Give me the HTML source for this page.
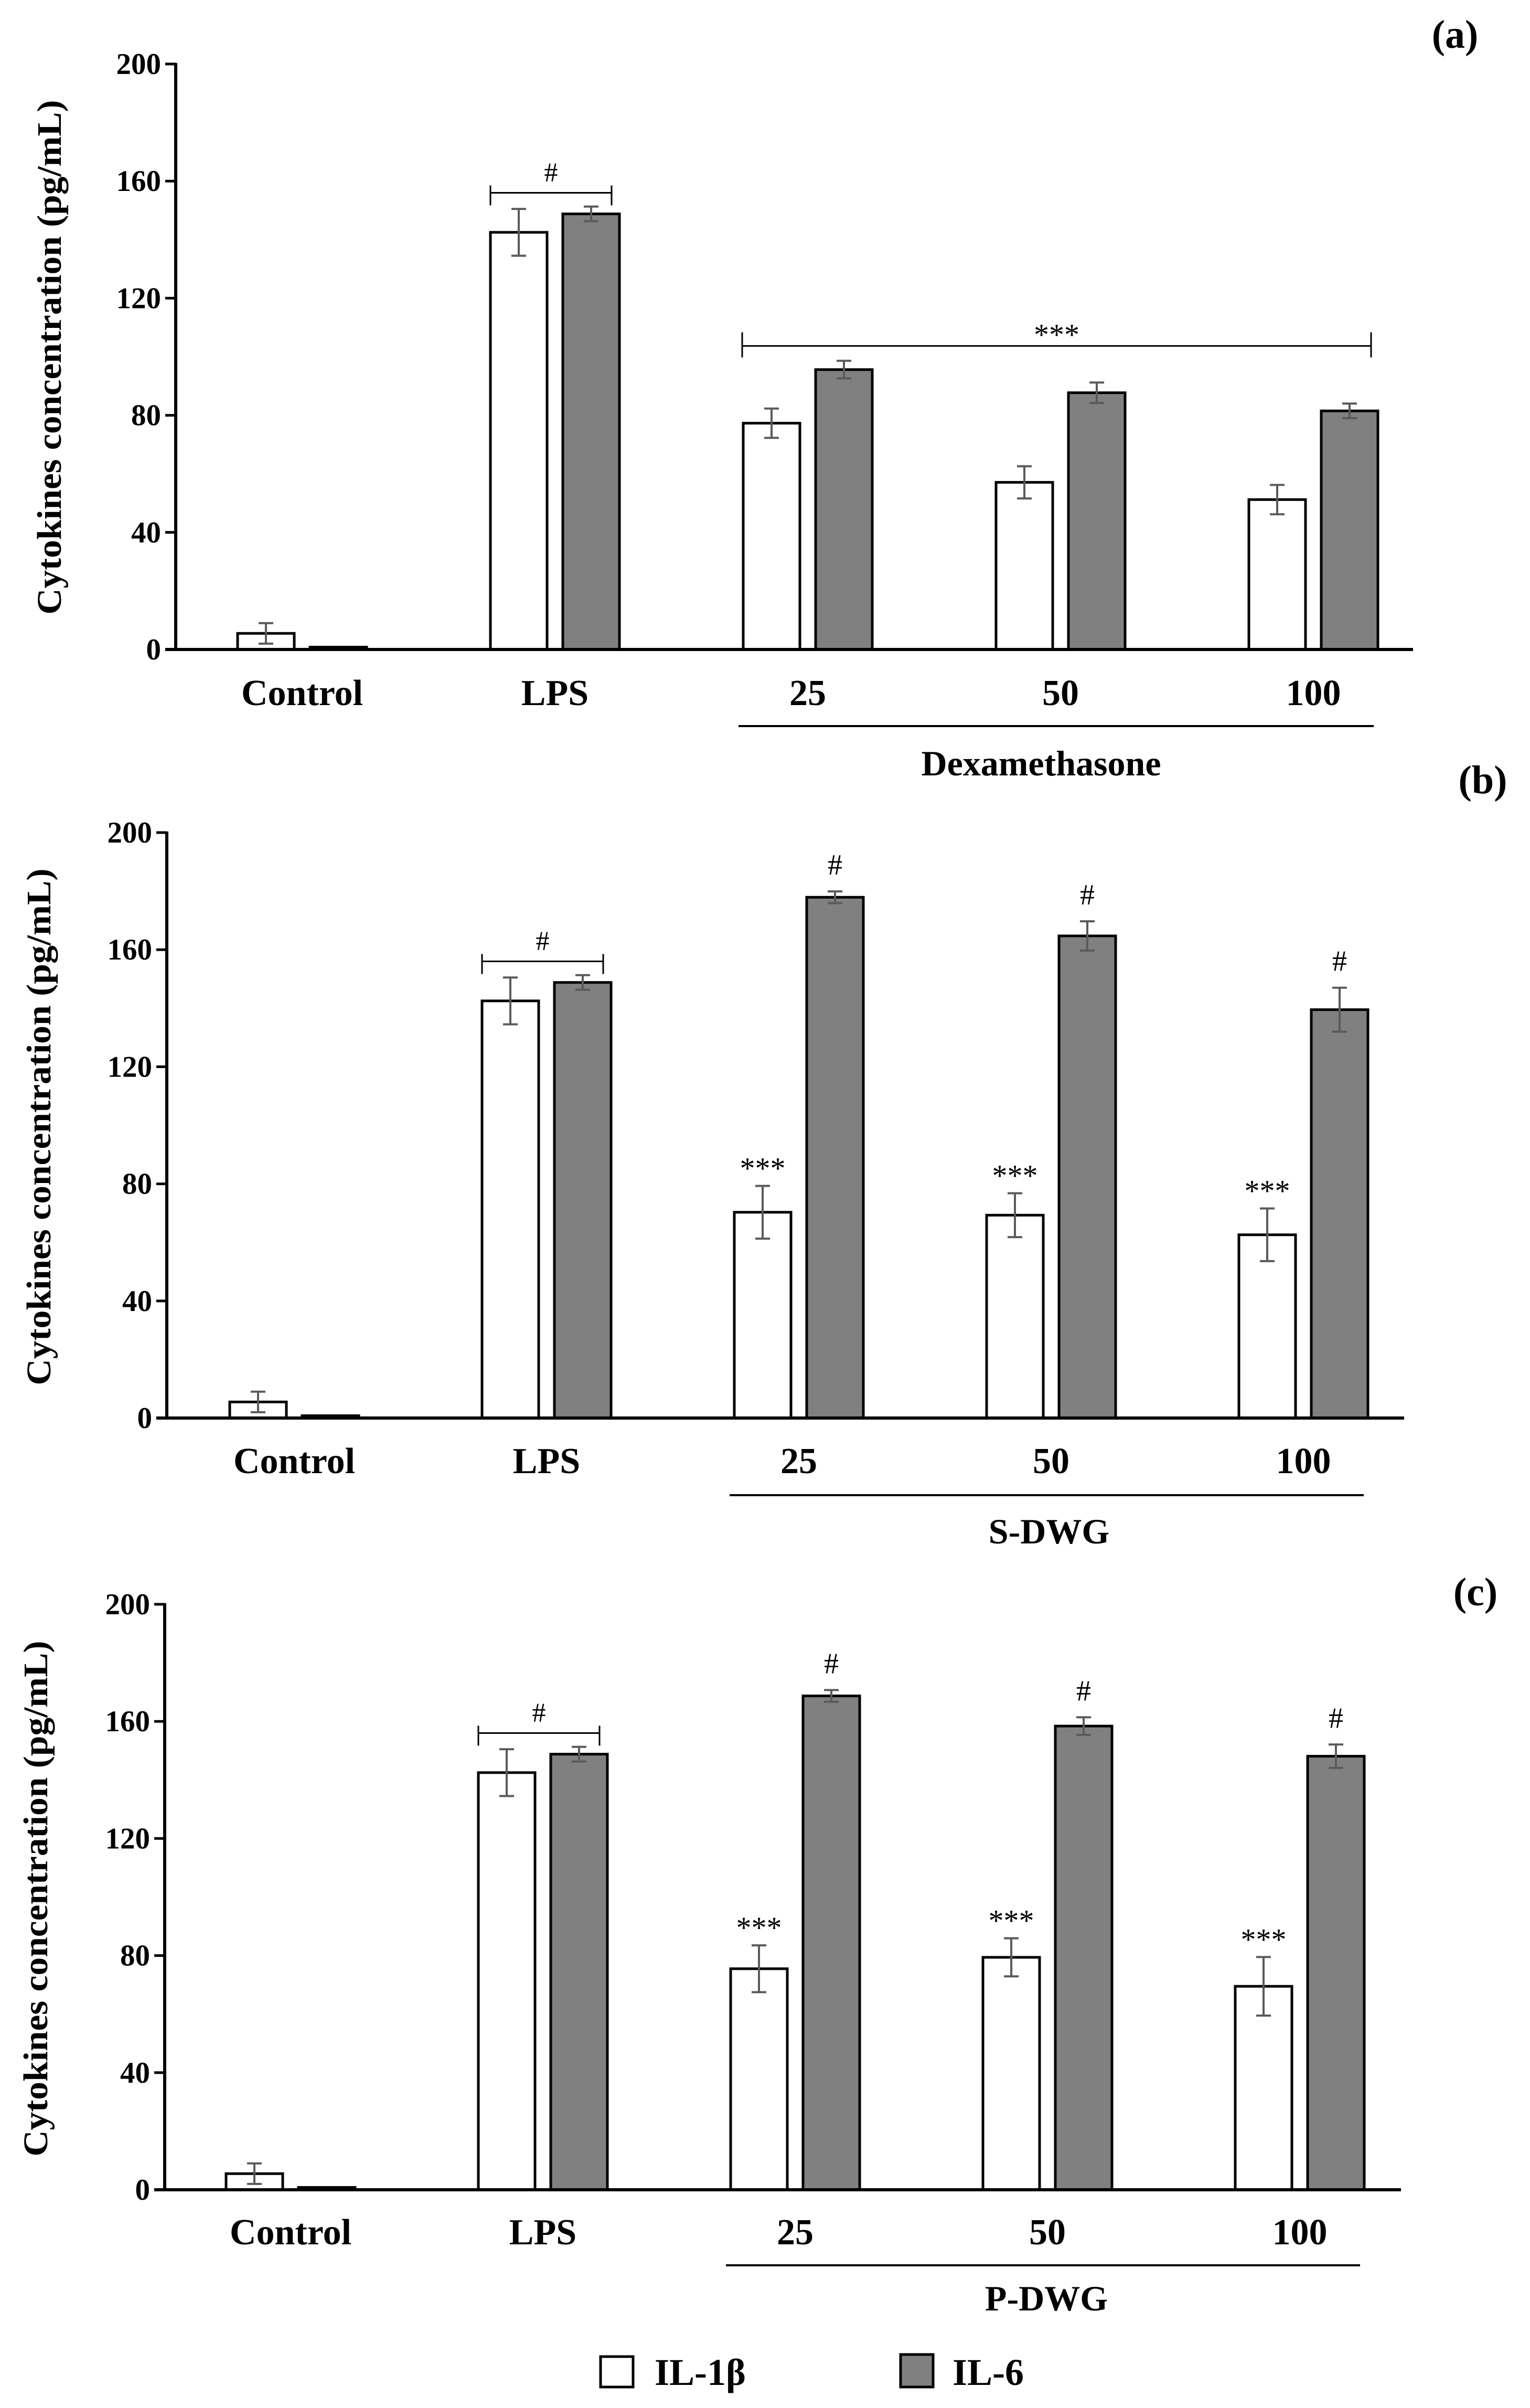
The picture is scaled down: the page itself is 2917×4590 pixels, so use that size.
<!DOCTYPE html>
<html><head><meta charset="utf-8"><style>
html,body{margin:0;padding:0;background:#fff;}
svg{display:block;}
</style></head><body>
<svg id="fig" width="2917" height="4590" viewBox="0 0 2917 4590" xmlns="http://www.w3.org/2000/svg" font-family="'Liberation Serif', serif"></svg>
<script>
// ---- data ----
const categories = ["Control", "LPS", "25", "50", "100"];
const yTicks = [0, 40, 80, 120, 160, 200];
const groupTitles = ["Dexamethasone", "S-DWG", "P-DWG"];
const panelLabels = ["(a)", "(b)", "(c)"];
const seriesNames = ["IL-1β", "IL-6"];
// panel (a)
const aIL1 = [5.5, 142.5, 77.3, 57.1, 51.2];
const aIL1err = [3.5, 8, 5, 5.5, 5];
const aIL6 = [0.8, 148.8, 95.6, 87.7, 81.5];
const aIL6err = [0.3, 2.5, 3, 3.5, 2.5];
// panel (b)
const bIL1 = [5.5, 142.5, 70.3, 69.3, 62.6];
const bIL1err = [3.5, 8, 9, 7.5, 9];
const bIL6 = [0.8, 148.8, 177.9, 164.7, 139.5];
const bIL6err = [0.3, 2.5, 2, 5, 7.5];
// panel (c)
const cIL1 = [5.5, 142.5, 75.5, 79.4, 69.5];
const cIL1err = [3.5, 8, 8, 6.5, 10];
const cIL6 = [0.8, 148.8, 168.7, 158.4, 148.1];
const cIL6err = [0.3, 2.5, 2, 3, 4];
const bracketLevel = [156, 103.7];

const NS = "http://www.w3.org/2000/svg";
const svg = document.getElementById("fig");
function mk(tag, attrs, parent, txt){
  const e = document.createElementNS(NS, tag);
  for (const k in attrs) e.setAttribute(k, attrs[k]);
  if (txt !== undefined) e.textContent = txt;
  (parent||svg).appendChild(e);
  return e;
}

const panels = [
  {ax:335, y0:1238, yTop:122, c0:576, step:482, axEnd:2694, tickR:307, titleX:93, titleY:681, titleLen:981,
   catY:1344, ulY:1384, grpY:1478, grpX:1985, lblX:2774, lblY:91, il1:aIL1, il1e:aIL1err, il6:aIL6, il6e:aIL6err, mode:"a"},
  {ax:318, y0:2703, yTop:1587, c0:561, step:481, axEnd:2677, tickR:290, titleX:73, titleY:2148, titleLen:985,
   catY:2808, ulY:2850, grpY:2942, grpX:2000, lblX:2827, lblY:1512, il1:bIL1, il1e:bIL1err, il6:bIL6, il6e:bIL6err, mode:"b"},
  {ax:314, y0:4174, yTop:3058, c0:554, step:481, axEnd:2671, tickR:286, titleX:67, titleY:3619, titleLen:983,
   catY:4278, ulY:4318, grpY:4404, grpX:1995, lblX:2813, lblY:3060, il1:cIL1, il1e:cIL1err, il6:cIL6, il6e:cIL6err, mode:"b"}
];
const BW = 108, OFF = 69;

panels.forEach((p, pi) => {
  const g = mk("g", {});
  
  
  const y = v => p.y0 - (v/200)*(p.y0 - p.yTop);
  const xc = i => p.c0 + i*p.step;

  yTicks.forEach(t => {
    const tk = mk("line", {x1:p.ax-20, x2:p.ax, y1:y(t), y2:y(t), stroke:"#000", "stroke-width":5}, g);
    
    
    const tl = mk("text", {x:p.tickR, y:y(t)+19, "text-anchor":"end", "font-size":57, "font-weight":"bold"}, g, String(t));
    
    
  });
  const yt = mk("text", {x:0, y:0, transform:`translate(${p.titleX+23},${p.titleY}) rotate(-90)`, "text-anchor":"middle",
    "font-size":66, "font-weight":"bold", textLength:p.titleLen, lengthAdjust:"spacingAndGlyphs"}, g, "Cytokines concentration (pg/mL)");
  
  

  categories.forEach((c, i) => {
    const pairs = [[p.il1[i], p.il1e[i], "#ffffff", -OFF, "il1b"], [p.il6[i], p.il6e[i], "#808080", OFF, "il6"]];
    pairs.forEach(([v, e, fill, off, nm]) => {
      const cx = xc(i) + off;
      const b = mk("rect", {x:cx-BW/2, y:y(v), width:BW, height:y(0)-y(v), fill:fill, stroke:"#000", "stroke-width":5}, g);
      
      
      if (v > 2) {
        const eb = mk("path", {d:`M${cx} ${y(v+e)}V${y(v-e)}M${cx-14} ${y(v+e)}H${cx+14}M${cx-14} ${y(v-e)}H${cx+14}`,
          stroke:"#5a5a5a", "stroke-width":4, fill:"none"}, g);
        
        
      }
      if (p.mode === "b" && i >= 2) {
        const txt = nm === "il1b" ? "***" : "#";
        const an = mk("text", {x:cx, y:y(v+e) - (nm === "il1b" ? 14 : 32), "text-anchor":"middle", "font-size":nm==="il1b"?58:56}, g, txt);
        
        
      }
    });
    const cl = mk("text", {x:xc(i), y:p.catY, "text-anchor":"middle", "font-size":70, "font-weight":"bold"}, g, c);
    
    
  });

  const xa = mk("line", {x1:p.ax-20, x2:p.axEnd, y1:y(0), y2:y(0), stroke:"#000", "stroke-width":6}, g);
  
  
  const ya = mk("line", {x1:p.ax, x2:p.ax, y1:y(200)-2, y2:y(0), stroke:"#000", "stroke-width":6}, g);
  
  

  const by = y(bracketLevel[0]);
  const l1 = xc(1)-123, r1 = xc(1)+108;
  const br = mk("path", {d:`M${l1} ${by}H${r1}M${l1} ${by-14}V${by+24}M${r1} ${by-14}V${by+24}`, stroke:"#000", "stroke-width":3, fill:"none"}, g);
  
  
  const bh = mk("text", {x:(l1+r1)/2, y:by-22, "text-anchor":"middle", "font-size":52}, g, "#");
  
  

  if (p.mode === "a") {
    const sy = y(bracketLevel[1]);
    const l2 = xc(2)-125, r2 = xc(4)+110;
    const sb = mk("path", {d:`M${l2} ${sy}H${r2}M${l2} ${sy-26}V${sy+22}M${r2} ${sy-26}V${sy+22}`, stroke:"#000", "stroke-width":3, fill:"none"}, g);
    
    
    const st = mk("text", {x:(l2+r2)/2, y:sy-2, "text-anchor":"middle", "font-size":58}, g, "***");
    
    
  }

  const ul = mk("line", {x1:xc(2)-132, x2:xc(4)+115, y1:p.ulY, y2:p.ulY, stroke:"#000", "stroke-width":4}, g);
  
  
  const gt = mk("text", {x:p.grpX, y:p.grpY, "text-anchor":"middle", "font-size":68, "font-weight":"bold"}, g, groupTitles[pi]);
  
  
  const pl = mk("text", {x:p.lblX, y:p.lblY, "text-anchor":"middle", "font-size":76, "font-weight":"bold"}, g, panelLabels[pi]);
  
  
});

const lg = mk("g", {});


const lb1 = mk("rect", {x:1145, y:4492, width:62, height:58, fill:"#fff", stroke:"#000", "stroke-width":5}, lg);


const lt1 = mk("text", {x:1248, y:4546, "font-size":72, "font-weight":"bold"}, lg, seriesNames[0]);


const lb2 = mk("rect", {x:1717, y:4488, width:62, height:62, fill:"#808080", stroke:"#000", "stroke-width":5}, lg);


const lt2 = mk("text", {x:1816, y:4546, "font-size":72, "font-weight":"bold"}, lg, seriesNames[1]);


</script>
</body></html>
